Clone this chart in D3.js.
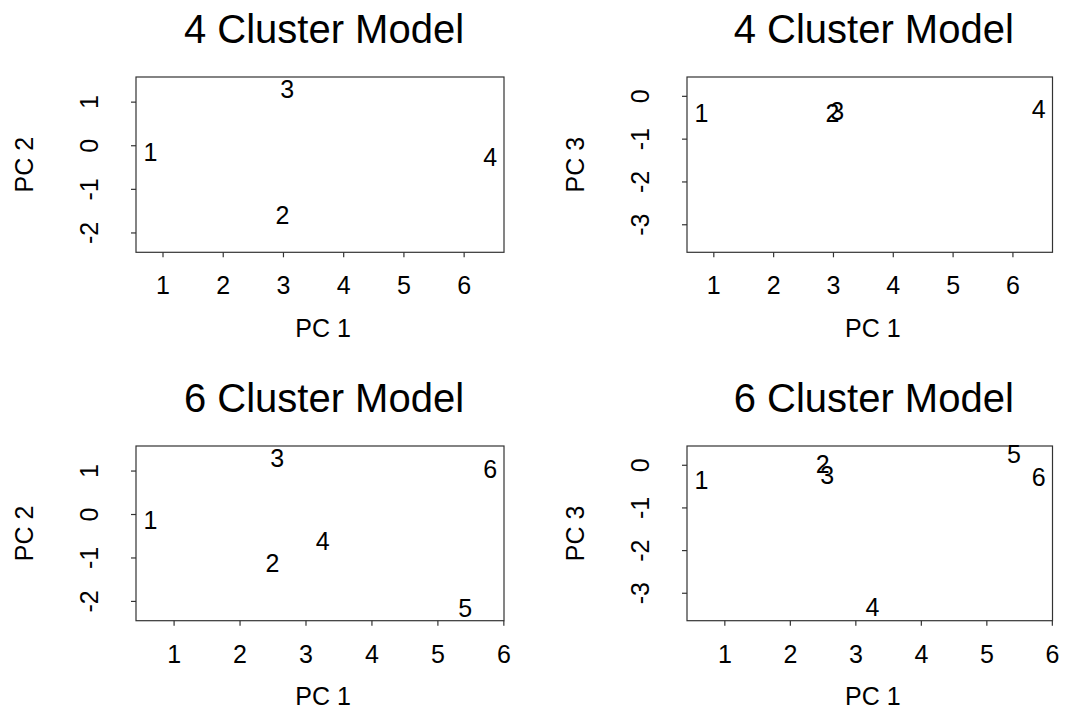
<!DOCTYPE html>
<html>
<head>
<meta charset="utf-8">
<script src="https://cdn.jsdelivr.net/npm/d3@7"></script>
<style>
  html, body { margin: 0; padding: 0; background: #fff; }
  text { font-family: "Liberation Sans", Arial, Helvetica, sans-serif; fill: #000; }
</style>
</head>
<body>
<svg id="chart" width="1073" height="711"></svg>
<script>
// ---- data ----
const cluster4Labels = ["1", "2", "3", "4"];
const cluster4PC1 = [0.80, 2.99, 3.07, 6.44];
const cluster4PC2 = [-0.15, -1.59, 1.28, -0.27];
const cluster4PC3 = [-0.39, -0.39, -0.36, -0.31];

const cluster6Labels = ["1", "2", "3", "4", "5", "6"];
const cluster6PC1 = [0.65, 2.50, 2.57, 3.26, 5.42, 5.80];
const cluster6PC2 = [-0.14, -1.13, 1.28, -0.61, -2.17, 1.04];
const cluster6PC3 = [-0.35, 0.02, -0.25, -3.33, 0.26, -0.29];

const xTicks = [1, 2, 3, 4, 5, 6];
const yTicksPC2 = [-2, -1, 0, 1];
const yTicksPC3 = [-3, -2, -1, 0];

const titles = ["4 Cluster Model", "4 Cluster Model", "6 Cluster Model", "6 Cluster Model"];
const xLim4 = [0.56, 6.67];
const xLim6 = [0.43, 6.01];
const yLimPC2 = [-2.455, 1.565];
const yLimPC3 = [-3.655, 0.44];

// ---- layout ----
const cols = [[136, 504], [687, 1052.5]];
const rows = [[77, 252.3], [446, 620.7]];

const panels = [
  {title: titles[0], col: 0, row: 0, labels: cluster4Labels, xs: cluster4PC1, ys: cluster4PC2, xlim: xLim4, ylim: yLimPC2, yticks: yTicksPC2, ylab: "PC 2"},
  {title: titles[1], col: 1, row: 0, labels: cluster4Labels, xs: cluster4PC1, ys: cluster4PC3, xlim: xLim4, ylim: yLimPC3, yticks: yTicksPC3, ylab: "PC 3"},
  {title: titles[2], col: 0, row: 1, labels: cluster6Labels, xs: cluster6PC1, ys: cluster6PC2, xlim: xLim6, ylim: yLimPC2, yticks: yTicksPC2, ylab: "PC 2"},
  {title: titles[3], col: 1, row: 1, labels: cluster6Labels, xs: cluster6PC1, ys: cluster6PC3, xlim: xLim6, ylim: yLimPC3, yticks: yTicksPC3, ylab: "PC 3"}
];

const svg = d3.select("#chart");
const fs = 25, titleFs = 40, tickLen = 5;
const lineColor = "#333";

panels.forEach(p => {
  const [x0, x1] = cols[p.col];
  const [y0, y1] = rows[p.row];
  const x = d3.scaleLinear().domain(p.xlim).range([x0, x1]);
  const y = d3.scaleLinear().domain(p.ylim).range([y1, y0]);
  const g = svg.append("g");

  // box
  g.append("rect")
    .attr("x", x0).attr("y", y0)
    .attr("width", x1 - x0).attr("height", y1 - y0)
    .attr("fill", "none").attr("stroke", lineColor).attr("stroke-width", 1.2);

  // x axis
  const xa = g.append("g").attr("transform", `translate(0,${y1})`)
    .call(d3.axisBottom(x).tickValues(xTicks).tickSize(tickLen).tickSizeOuter(0).tickFormat(d3.format("d")));
  xa.select(".domain").remove();
  xa.selectAll(".tick line").attr("stroke", lineColor).attr("stroke-width", 1.2);
  xa.selectAll(".tick text").attr("font-size", fs).attr("dy", null).attr("y", 42)
    .attr("font-family", "Liberation Sans, Arial, sans-serif").attr("fill", "#000");

  // y axis
  const ya = g.append("g").attr("transform", `translate(${x0},0)`)
    .call(d3.axisLeft(y).tickValues(p.yticks).tickSize(tickLen).tickSizeOuter(0).tickFormat(d3.format("d")));
  ya.select(".domain").remove();
  ya.selectAll(".tick line").attr("stroke", lineColor).attr("stroke-width", 1.2);
  ya.selectAll(".tick text").remove();
  ya.selectAll(".tick").append("text")
    .attr("transform", "translate(-38,0) rotate(-90)")
    .attr("text-anchor", "middle")
    .attr("font-size", fs)
    .attr("font-family", "Liberation Sans, Arial, sans-serif")
    .attr("fill", "#000")
    .text(d => d3.format("d")(d).replace("−", "-"));

  // axis titles
  const cx = (x0 + x1) / 2, cy = (y0 + y1) / 2;
  g.append("text").attr("x", cx + 3).attr("y", y1 + 84.4)
    .attr("text-anchor", "middle").attr("font-size", fs).text("PC 1");
  g.append("text").attr("transform", `translate(${x0 - 103},${cy}) rotate(-90)`)
    .attr("text-anchor", "middle").attr("font-size", fs).text(p.ylab);

  // main title
  g.append("text").attr("x", cx + 4).attr("y", y0 - 34.4)
    .attr("text-anchor", "middle").attr("font-size", titleFs).text(p.title);

  // cluster labels
  g.selectAll("text.lab").data(p.labels).enter().append("text")
    .attr("class", "lab")
    .attr("x", (d, i) => x(p.xs[i]))
    .attr("y", (d, i) => y(p.ys[i]))
    .attr("dy", "0.36em")
    .attr("text-anchor", "middle")
    .attr("font-size", fs)
    .text(d => d);
});
</script>
</body>
</html>
